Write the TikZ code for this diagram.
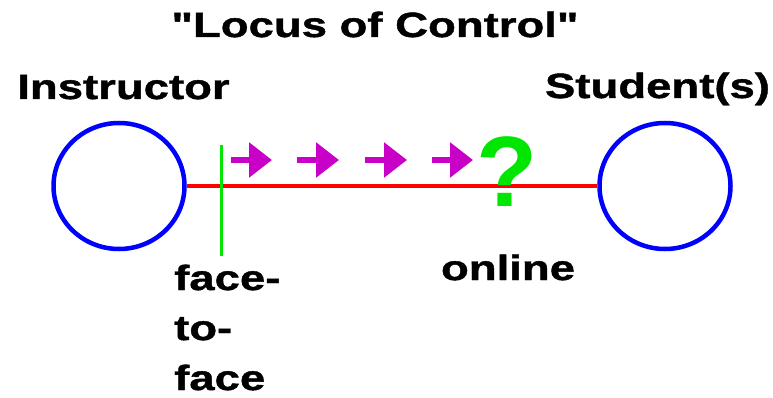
\documentclass[tikz,border=0pt]{standalone}
\usepackage{fontspec}
\usetikzlibrary{arrows.meta,shapes.geometric}
\newfontfamily\lblfont[FakeStretch=1.3,FakeBold=1.2]{Liberation Sans Bold}
\newfontfamily\qmfont{Liberation Sans Bold}
\definecolor{ringblue}{RGB}{0,0,255}
\definecolor{linered}{RGB}{255,0,0}
\definecolor{markgreen}{RGB}{0,230,0}
\definecolor{arrowmag}{RGB}{200,0,200}
\tikzset{
  lbl/.style={inner sep=0pt, font=\lblfont\fontsize{35}{50}\selectfont},
  ring/.style={ellipse, draw=ringblue, line width=4.5pt, minimum width=131pt, minimum height=126pt, inner sep=0pt},
  shift arrow/.style={draw=arrowmag, line width=6pt, -{Triangle[length=23pt,width=34pt]}, arrowmag},
}
\begin{document}
\begin{tikzpicture}[x=1pt,y=-1pt]
\useasboundingbox (0,0) rectangle (773,398);
% title and labels
\node[lbl, anchor=base] (title) at (375,37) {"Locus of Control"};
\node[lbl, anchor=base] (instrlbl) at (123.5,99) {Instructor};
\node[lbl, anchor=base] (studlbl) at (657.5,98) {Student(s)};
% circles
\node[ring] (instr) at (119,186) {};
\node[ring] (stud) at (665,186) {};
% continuum line
\draw[linered, line width=3.5pt] (instr.east) -- (stud.west);
% face-to-face marker
\coordinate (ftop) at (221,145);
\coordinate (fbot) at (221,256);
\draw[markgreen, line width=3pt] (ftop) -- (fbot);
% arrows
\draw[shift arrow] (231,160) -- (272,160);
\draw[shift arrow] (297,160) -- (339,160);
\draw[shift arrow] (365,160) -- (407,160);
\draw[shift arrow] (432,160) -- (473,160);
% question mark
\node[inner sep=0pt, anchor=base, text=markgreen, font=\qmfont\fontsize{100}{100}\selectfont] (qm) at (507.5,206) {?};
% endpoint labels
\node[lbl, anchor=base west, align=left] (f2f) at (174,390) {face-\\to-\\face};
\node[lbl, anchor=base] (online) at (508,280) {online};
\end{tikzpicture}
\end{document}
